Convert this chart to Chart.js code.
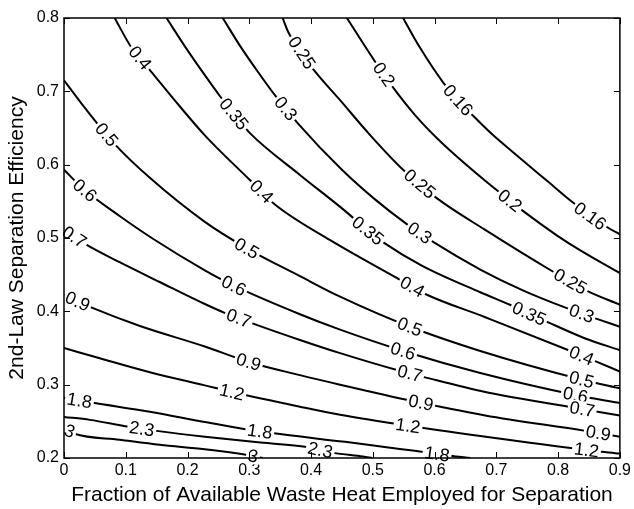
<!DOCTYPE html>
<html>
<head>
<meta charset="utf-8">
<script src="https://cdn.jsdelivr.net/npm/chart.js@4.4.0/dist/chart.umd.min.js"></script>
<style>
  body { margin: 0; background: #fff; }
  #wrap { width: 634px; height: 509px; }
</style>
</head>
<body>
<div id="wrap"><canvas id="chart" width="634" height="509"></canvas></div>
<script>
const xTicks = [0, 0.1, 0.2, 0.3, 0.4, 0.5, 0.6, 0.7, 0.8, 0.9];
const yTicks = [0.2, 0.3, 0.4, 0.5, 0.6, 0.7, 0.8];

const levels = ['0.16', '0.2', '0.25', '0.3', '0.35', '0.4', '0.5', '0.6', '0.7', '0.9', '1.2', '1.8', '2.3', '3'];

// contour lines, [fraction, efficiency]
const c016 = [[0.549, 0.800], [0.576, 0.760], [0.614, 0.712], [0.638, 0.688], [0.662, 0.667], [0.695, 0.640],
  [0.727, 0.617], [0.782, 0.578], [0.823, 0.549], [0.852, 0.530], [0.881, 0.514], [0.9, 0.505]];
const c020 = [[0.458, 0.800], [0.504, 0.740], [0.533, 0.705], [0.568, 0.668], [0.609, 0.632], [0.682, 0.578],
  [0.722, 0.551], [0.743, 0.537], [0.799, 0.503], [0.836, 0.483], [0.9, 0.452]];
const c025 = [[0.354, 0.800], [0.363, 0.781], [0.398, 0.736], [0.447, 0.688], [0.496, 0.640], [0.549, 0.593],
  [0.604, 0.554], [0.682, 0.511], [0.790, 0.455], [0.847, 0.428], [0.9, 0.409]];
const c030 = [[0.257, 0.800], [0.285, 0.762], [0.317, 0.723], [0.344, 0.692], [0.379, 0.656], [0.450, 0.593],
  [0.503, 0.553], [0.555, 0.519], [0.597, 0.495], [0.674, 0.457], [0.742, 0.429], [0.812, 0.405],
  [0.865, 0.389], [0.9, 0.379]];
const c035 = [[0.166, 0.800], [0.196, 0.761], [0.228, 0.722], [0.252, 0.694], [0.276, 0.668], [0.301, 0.643],
  [0.382, 0.586], [0.455, 0.537], [0.492, 0.510], [0.517, 0.494], [0.580, 0.462], [0.674, 0.426],
  [0.722, 0.409], [0.784, 0.385], [0.844, 0.363], [0.9, 0.347]];
const c040 = [[0.082, 0.800], [0.109, 0.760], [0.142, 0.726], [0.179, 0.688], [0.228, 0.640], [0.301, 0.579],
  [0.341, 0.546], [0.431, 0.497], [0.544, 0.443], [0.584, 0.424], [0.682, 0.392], [0.817, 0.347],
  [0.860, 0.332], [0.9, 0.318]];
const c050 = [[0, 0.715], [0.025, 0.687], [0.055, 0.655], [0.082, 0.628], [0.139, 0.582], [0.228, 0.522],
  [0.296, 0.486], [0.382, 0.448], [0.447, 0.420], [0.560, 0.379], [0.674, 0.346], [0.838, 0.307],
  [0.9, 0.295]];
const c060 = [[0, 0.593], [0.034, 0.565], [0.090, 0.530], [0.144, 0.499], [0.228, 0.456], [0.275, 0.435],
  [0.382, 0.396], [0.447, 0.375], [0.549, 0.346], [0.674, 0.316], [0.828, 0.286], [0.9, 0.275]];
const c070 = [[0, 0.511], [0.034, 0.492], [0.090, 0.467], [0.155, 0.440], [0.228, 0.410], [0.260, 0.398],
  [0.304, 0.384], [0.382, 0.361], [0.447, 0.343], [0.539, 0.320], [0.580, 0.311], [0.682, 0.290],
  [0.817, 0.270], [0.864, 0.263], [0.9, 0.258]];
const c090 = [[0, 0.422], [0.045, 0.405], [0.123, 0.380], [0.228, 0.352], [0.299, 0.331], [0.382, 0.313],
  [0.447, 0.300], [0.557, 0.279], [0.682, 0.258], [0.844, 0.237], [0.9, 0.229]];
const c120 = [[0, 0.350], [0.058, 0.336], [0.139, 0.317], [0.228, 0.299], [0.272, 0.290], [0.382, 0.270],
  [0.447, 0.259], [0.557, 0.244], [0.674, 0.230], [0.846, 0.211], [0.9, 0.206]];
const c180 = [[0, 0.282], [0.050, 0.275], [0.139, 0.263], [0.228, 0.249], [0.296, 0.239], [0.337, 0.234],
  [0.455, 0.222], [0.528, 0.214], [0.585, 0.208], [0.625, 0.203], [0.658, 0.200]];
const c230 = [[0, 0.256], [0.042, 0.252], [0.102, 0.243], [0.150, 0.237], [0.228, 0.229], [0.318, 0.221],
  [0.393, 0.215], [0.436, 0.207], [0.484, 0.202], [0.499, 0.200]];
const c300 = [[0, 0.241], [0.017, 0.233], [0.090, 0.225], [0.155, 0.218], [0.228, 0.212], [0.290, 0.205],
  [0.322, 0.200]];

const lines = [c016, c020, c025, c030, c035, c040, c050, c060, c070, c090, c120, c180, c230, c300];

// where along each line (fraction axis) the inline value labels sit
const labelAt = [
  [0.638, 0.852], [0.518, 0.722], [0.385, 0.576, 0.820], [0.359, 0.576, 0.838], [0.275, 0.492, 0.753],
  [0.123, 0.320, 0.564, 0.838], [0.069, 0.296, 0.560, 0.838], [0.034, 0.275, 0.549, 0.828],
  [0.017, 0.283, 0.560, 0.839], [0.022, 0.299, 0.578, 0.865], [0.272, 0.557, 0.846],
  [0.025, 0.317, 0.604], [0.126, 0.415], [0.009, 0.306]
];

const FONT = '"Liberation Sans", Arial, Helvetica, sans-serif';

const fmt = v => {
  const r = Math.round(v * 10) / 10;
  return r === 0 ? '0' : String(r);
};

// y on a line (pixels) at a given pixel x
const lineYAt = (pts, px) => {
  for (let i = 0; i < pts.length - 1; i++) {
    const a = pts[i], b = pts[i + 1];
    if (px >= a.x && px <= b.x) {
      const t = (px - a.x) / ((b.x - a.x) || 1);
      return a.y + t * (b.y - a.y);
    }
  }
  return px < pts[0].x ? pts[0].y : pts[pts.length - 1].y;
};

const contourLabels = {
  id: 'contourLabels',
  afterDatasetsDraw(chart) {
    const ctx = chart.ctx;
    const xs = chart.scales.x, ys = chart.scales.y;
    ctx.save();
    ctx.font = '18px ' + FONT;
    ctx.textAlign = 'center';
    ctx.textBaseline = 'middle';
    lines.forEach((line, i) => {
      const pts = line.map(p => ({ x: xs.getPixelForValue(p[0]), y: ys.getPixelForValue(p[1]) }));
      labelAt[i].forEach(lx => {
        const px = xs.getPixelForValue(lx);
        const py = lineYAt(pts, px);
        const ang = Math.atan2(lineYAt(pts, px + 8) - lineYAt(pts, px - 8), 16);
        const txt = levels[i];
        const w = ctx.measureText(txt).width + 4;
        ctx.save();
        ctx.translate(px, py);
        ctx.rotate(ang);
        ctx.fillStyle = '#fff';
        ctx.fillRect(-w / 2, -8, w, 16);
        ctx.fillStyle = '#000';
        ctx.fillText(txt, 0, 1);
        ctx.restore();
      });
    });
    ctx.restore();
  }
};

// MATLAB style box with inward ticks
const frame = {
  id: 'frame',
  afterDraw(chart) {
    const ctx = chart.ctx;
    const a = chart.chartArea;
    const xs = chart.scales.x, ys = chart.scales.y;
    ctx.save();
    ctx.strokeStyle = '#000';
    ctx.lineWidth = 1;
    ctx.beginPath();
    xTicks.forEach(v => {
      const p = Math.round(xs.getPixelForValue(v)) + 0.5;
      ctx.moveTo(p, a.bottom); ctx.lineTo(p, a.bottom - 6);
      ctx.moveTo(p, a.top); ctx.lineTo(p, a.top + 6);
    });
    yTicks.forEach(v => {
      const p = Math.round(ys.getPixelForValue(v)) + 0.5;
      ctx.moveTo(a.left, p); ctx.lineTo(a.left + 6, p);
      ctx.moveTo(a.right, p); ctx.lineTo(a.right - 6, p);
    });
    ctx.stroke();
    ctx.lineWidth = 1.5;
    ctx.strokeRect(a.left, a.top, a.right - a.left, a.bottom - a.top);
    ctx.restore();
  }
};

const ctx = document.getElementById('chart').getContext('2d');
new Chart(ctx, {
  type: 'scatter',
  data: {
    datasets: lines.map((line, i) => ({
      label: levels[i],
      data: line.map(p => ({ x: p[0], y: p[1] })),
      showLine: true,
      borderColor: '#000',
      borderWidth: 2,
      pointRadius: 0,
      cubicInterpolationMode: 'monotone'
    }))
  },
  options: {
    responsive: false,
    animation: false,
    layout: { padding: { left: 0, right: 14, top: 18, bottom: 0 } },
    plugins: { legend: { display: false }, tooltip: { enabled: false } },
    scales: {
      x: {
        type: 'linear',
        min: 0,
        max: 0.9,
        afterFit: s => { s.height = 51; },
        afterBuildTicks: s => { s.ticks = xTicks.map(v => ({ value: v })); },
        grid: { display: false, drawTicks: false },
        border: { display: false },
        ticks: { color: '#000', font: { size: 16, family: FONT }, padding: 3, maxRotation: 0, callback: fmt },
        title: {
          display: true,
          text: 'Fraction of Available Waste Heat Employed for Separation',
          color: '#000',
          font: { size: 21, family: FONT },
          padding: { top: 0, bottom: 1 }
        }
      },
      y: {
        type: 'linear',
        min: 0.2,
        max: 0.8,
        afterFit: s => { s.width = 64; },
        afterBuildTicks: s => { s.ticks = yTicks.map(v => ({ value: v })); },
        grid: { display: false, drawTicks: false },
        border: { display: false },
        ticks: { color: '#000', font: { size: 16, family: FONT }, padding: 5, callback: fmt },
        title: {
          display: true,
          text: '2nd-Law Separation Efficiency',
          color: '#000',
          font: { size: 21, family: FONT },
          padding: { top: 5, bottom: 0 }
        }
      }
    }
  },
  plugins: [contourLabels, frame]
});
</script>
</body>
</html>
